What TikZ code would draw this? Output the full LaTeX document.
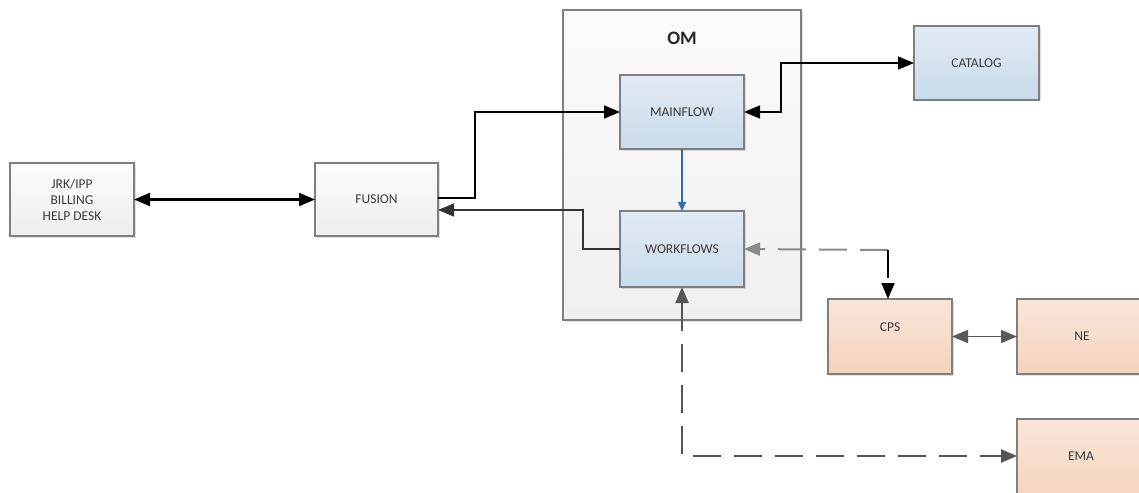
\documentclass[tikz,border=0pt]{standalone}
\usepackage{fontspec}
\setmainfont{Carlito}
\usetikzlibrary{arrows.meta,shadows,calc}

\definecolor{edge}{HTML}{7F7F7F}
\definecolor{grayT}{HTML}{FDFDFD}
\definecolor{grayB}{HTML}{EDEDED}
\definecolor{blueT}{HTML}{E2EAF3}
\definecolor{blueB}{HTML}{C9DBEB}
\definecolor{orT}{HTML}{F9E6DA}
\definecolor{orB}{HTML}{F3D3BC}
\definecolor{omT}{HTML}{FBFBFB}
\definecolor{omB}{HTML}{EFEFEF}
\definecolor{txt}{HTML}{3A3A3A}
\definecolor{flow}{HTML}{2E6DB4}
\definecolor{dashgray}{HTML}{8A8A8A}
\definecolor{dashdark}{HTML}{555555}

\tikzset{
  box/.style={draw=edge, line width=1.3pt, anchor=north west, outer sep=0pt,
    inner sep=0pt, align=center, text=txt, font=\fontsize{13.5}{16}\selectfont,
    drop shadow={shadow xshift=1.5pt, shadow yshift=-1.5pt, opacity=0.25}},
  graybox/.style={box, top color=grayT, bottom color=grayB},
  bluebox/.style={box, top color=blueT, bottom color=blueB},
  orangebox/.style={box, top color=orT, bottom color=orB},
  bigtip/.tip={Triangle[length=16pt, width=13pt]},
  link/.style={line width=1.4pt, -bigtip},
  dlink/.style={dashed, dash pattern=on 28pt off 13pt, line width=2pt},
}

\begin{document}
\begin{tikzpicture}[x=1pt, y=-1pt]
\useasboundingbox (0,0) rectangle (1139,492);
\clip (0,0) rectangle (1139,492);

% container
\node[box, top color=omT, bottom color=omB, minimum width=238pt, minimum height=310pt] (om) at (563,10) {};
\node[font=\bfseries\fontsize{19}{22}\selectfont, text=black!85] (omlabel) at (682,38) {OM};

% blocks
\node[graybox, minimum width=124pt, minimum height=73pt] (jrk) at (10,163) {JRK/IPP\\BILLING\\HELP DESK};
\node[graybox, minimum width=123pt, minimum height=73pt] (fusion) at (315,163) {FUSION};
\node[bluebox, minimum width=124pt, minimum height=74pt] (mainflow) at (620,75) {MAINFLOW};
\node[bluebox, minimum width=124pt, minimum height=76pt] (workflows) at (620,211) {WORKFLOWS};
\node[bluebox, minimum width=125pt, minimum height=74pt] (catalog) at (914,26) {CATALOG};
\node[orangebox, minimum width=124pt, minimum height=75pt] (cps) at (828,299) {};
\node[txt, font=\fontsize{13.5}{16}\selectfont] (cpslabel) at (890,327) {CPS};
\node[orangebox, minimum width=130pt, minimum height=75pt] (ne) at (1017,299) {NE};
\node[orangebox, minimum width=130pt, minimum height=85pt] (ema) at (1017,419) {};
\node[txt, font=\fontsize{13.5}{16}\selectfont] (emalabel) at (1081,456) {EMA};

% bends
\coordinate (f1) at (475,198);
\coordinate (w1) at (583,210);
\coordinate (c1) at (781,63);
\coordinate (d1) at (888,250);
\coordinate (e1) at (682,456);

% connectors
\draw[line width=2.2pt, bigtip-bigtip] (jrk.east) -- (fusion.west);
\draw[link] (fusion.east |- f1) -- (f1) |- (mainflow.west);
\draw[link, black!80] (workflows.west) -| (w1) -- (w1 -| fusion.east);
\draw[line width=1.4pt, flow, -{Triangle[length=9pt, width=8pt]}] (mainflow.south) -- (workflows.north);
\draw[line width=1.6pt, bigtip-bigtip] (mainflow.east) -| (c1) -- (c1 -| catalog.west);
\draw[line width=1.6pt, black!65, bigtip-bigtip] (cps.east) -- (ne.west);

% dashed links
\draw[dlink, dashgray, -bigtip] (d1) -- (workflows.east);
\draw[dlink, black, -bigtip] (d1) -- (d1 |- cps.north);
\draw[dlink, dashdark, bigtip-bigtip] (workflows.south) -- (e1) -- (e1 -| ema.west);
\end{tikzpicture}
\end{document}
